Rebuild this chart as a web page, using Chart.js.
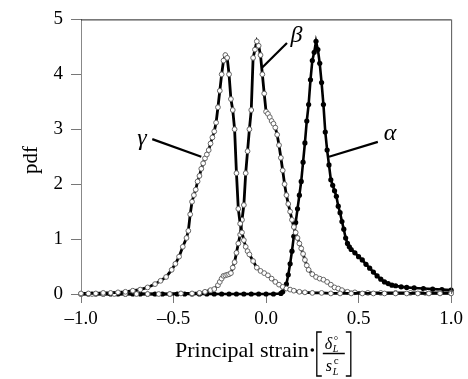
<!DOCTYPE html>
<html lang="en">
<head>
<meta charset="UTF-8">
<title>Principal strain pdf</title>
<script src="https://cdn.jsdelivr.net/npm/chart.js@4.4.1/dist/chart.umd.min.js"></script>
<style>
  body { margin: 0; background: #fff; }
  #wrap { width: 468px; height: 379px; }
</style>
</head>
<body>
<div id="wrap"><canvas id="myChart" width="468" height="379"></canvas></div>
<script>
// values
const xTickValues = [-1.0, -0.5, 0.0, 0.5, 1.0];
const xTickLabels = ["\u20131.0", "\u20130.5", "0.0", "0.5", "1.0"];
const yTickValues = [0, 1, 2, 3, 4, 5];

const gammaX = [-1.00, -0.96, -0.92, -0.88, -0.84, -0.80, -0.76, -0.72, -0.68, -0.64, -0.60, -0.57, -0.54, -0.51, -0.49, -0.47,
  -0.45, -0.43, -0.42, -0.41, -0.40, -0.39, -0.38, -0.37, -0.36, -0.35, -0.34, -0.33, -0.32, -0.31, -0.30, -0.29,
  -0.28, -0.27, -0.26, -0.25, -0.24, -0.23, -0.22, -0.21, -0.20, -0.19, -0.18, -0.17, -0.16, -0.15, -0.14, -0.13,
  -0.12, -0.11, -0.10, -0.09, -0.07, -0.05, -0.03, -0.01, 0.01, 0.03, 0.05, 0.07, 0.09, 0.11, 0.13, 0.15,
  0.18, 0.21, 0.25, 0.30, 0.35, 0.40, 0.46, 0.52, 0.58, 0.64, 0.70, 0.76, 0.82, 0.88, 0.94, 1.00];
const gammaY = [0.01, 0.01, 0.01, 0.02, 0.02, 0.03, 0.04, 0.06, 0.08, 0.12, 0.18, 0.24, 0.31, 0.44, 0.55, 0.68,
  0.86, 1.02, 1.15, 1.45, 1.68, 1.80, 1.90, 2.05, 2.15, 2.28, 2.38, 2.47, 2.54, 2.62, 2.74, 2.85,
  2.96, 3.12, 3.40, 3.70, 4.00, 4.25, 4.35, 4.30, 4.00, 3.55, 3.35, 3.00, 2.20, 1.55, 1.28, 1.12,
  0.98, 0.86, 0.78, 0.72, 0.60, 0.48, 0.42, 0.38, 0.34, 0.28, 0.22, 0.17, 0.13, 0.10, 0.08, 0.06,
  0.04, 0.03, 0.02, 0.02, 0.01, 0.01, 0.01, 0.01, 0.01, 0.01, 0.01, 0.01, 0.01, 0.01, 0.01, 0.01];

const betaX = [-1.00, -0.94, -0.88, -0.82, -0.76, -0.70, -0.64, -0.58, -0.52, -0.46, -0.40, -0.36, -0.33, -0.30, -0.28, -0.26,
  -0.25, -0.24, -0.23, -0.22, -0.21, -0.20, -0.19, -0.18, -0.17, -0.16, -0.15, -0.14, -0.13, -0.12, -0.11, -0.10,
  -0.09, -0.08, -0.07, -0.06, -0.05, -0.04, -0.03, -0.02, -0.01, 0.00, 0.01, 0.02, 0.03, 0.04, 0.05, 0.06,
  0.07, 0.08, 0.09, 0.10, 0.11, 0.12, 0.13, 0.14, 0.15, 0.16, 0.17, 0.18, 0.19, 0.20, 0.21, 0.22,
  0.23, 0.25, 0.27, 0.29, 0.31, 0.33, 0.35, 0.37, 0.39, 0.41, 0.44, 0.48, 0.55, 0.62, 0.70, 0.78, 0.86, 0.94, 1.00];
const betaY = [0.00, 0.00, 0.00, 0.00, 0.00, 0.00, 0.00, 0.00, 0.00, 0.01, 0.01, 0.02, 0.04, 0.07, 0.09, 0.16,
  0.22, 0.28, 0.33, 0.34, 0.35, 0.36, 0.38, 0.48, 0.58, 0.75, 0.92, 1.08, 1.35, 1.62, 2.20, 2.60,
  3.00, 3.35, 4.30, 4.45, 4.60, 4.52, 4.35, 4.00, 3.65, 3.32, 3.28, 3.22, 3.15, 3.10, 3.03, 2.90,
  2.71, 2.48, 2.25, 2.00, 1.80, 1.64, 1.50, 1.35, 1.22, 1.12, 1.02, 0.92, 0.83, 0.73, 0.62, 0.52,
  0.44, 0.36, 0.31, 0.28, 0.26, 0.22, 0.17, 0.12, 0.10, 0.07, 0.04, 0.03, 0.02, 0.02, 0.02, 0.02, 0.02, 0.02, 0.02];

const alphaX = [-1.00, -0.96, -0.92, -0.88, -0.84, -0.80, -0.76, -0.72, -0.68, -0.64, -0.60, -0.56, -0.52, -0.48, -0.44, -0.40,
  -0.36, -0.32, -0.28, -0.24, -0.20, -0.16, -0.12, -0.08, -0.04, 0.00, 0.04, 0.08, 0.09, 0.10, 0.11, 0.12,
  0.13, 0.14, 0.15, 0.16, 0.17, 0.18, 0.19, 0.20, 0.21, 0.22, 0.23, 0.24, 0.25, 0.26, 0.27, 0.28,
  0.29, 0.30, 0.31, 0.32, 0.33, 0.34, 0.35, 0.36, 0.37, 0.38, 0.39, 0.40, 0.41, 0.42, 0.43, 0.44,
  0.45, 0.46, 0.48, 0.50, 0.52, 0.54, 0.56, 0.58, 0.60, 0.62, 0.64, 0.66, 0.68, 0.70, 0.73, 0.76,
  0.80, 0.85, 0.90, 0.95, 1.00];
const alphaY = [0.00, 0.00, 0.00, 0.00, 0.00, 0.00, 0.00, 0.00, 0.00, 0.00, 0.00, 0.00, 0.00, 0.00, 0.00, 0.00,
  0.00, 0.00, 0.00, 0.00, 0.00, 0.00, 0.00, 0.00, 0.00, 0.00, 0.00, 0.01, 0.04, 0.10, 0.18, 0.35,
  0.55, 0.78, 1.05, 1.30, 1.55, 1.80, 2.05, 2.40, 2.75, 3.15, 3.45, 3.90, 4.25, 4.40, 4.60, 4.45,
  4.20, 3.85, 3.45, 2.95, 2.62, 2.35, 2.08, 1.98, 1.88, 1.78, 1.60, 1.48, 1.32, 1.18, 1.02, 0.92,
  0.86, 0.81, 0.75, 0.68, 0.62, 0.54, 0.47, 0.40, 0.33, 0.27, 0.22, 0.19, 0.16, 0.15, 0.13, 0.12,
  0.11, 0.10, 0.09, 0.08, 0.07];

// curve labels: [text, label x, label y, leader start x, y, leader end x, y] in data units
const curveLabels = [
  ["\u03B3", -0.67, 2.82, -0.615, 2.82, -0.350, 2.50],
  ["\u03B2", 0.165, 4.70, 0.113, 4.57, -0.022, 4.12],
  ["\u03B1", 0.670, 2.92, 0.604, 2.77, 0.340, 2.50]
];

const serif = "'Liberation Serif', 'DejaVu Serif', serif";

function pts(xs, ys) {
  return xs.map((x, i) => ({ x: x, y: ys[i] }));
}

// frame, curve labels and the bracketed axis title
const decorations = {
  id: "decorations",
  afterDraw(chart) {
    const ctx = chart.ctx;
    const a = chart.chartArea;
    const sx = chart.scales.x, sy = chart.scales.y;
    ctx.save();
    // top and right frame
    ctx.strokeStyle = "#222";
    ctx.lineWidth = 1;
    ctx.beginPath();
    ctx.moveTo(a.left, a.top + 0.5);
    ctx.lineTo(a.right, a.top + 0.5);
    ctx.stroke();
    ctx.strokeStyle = "#555";
    ctx.beginPath();
    ctx.moveTo(a.right + 0.5, a.top);
    ctx.lineTo(a.right + 0.5, a.bottom);
    ctx.stroke();

    // greek labels with leader lines
    ctx.fillStyle = "#000";
    ctx.strokeStyle = "#000";
    ctx.lineWidth = 2.2;
    ctx.font = "italic 24px " + serif;
    ctx.textAlign = "center";
    ctx.textBaseline = "middle";
    curveLabels.forEach(l => {
      ctx.fillText(l[0], sx.getPixelForValue(l[1]), sy.getPixelForValue(l[2]));
      ctx.beginPath();
      ctx.moveTo(sx.getPixelForValue(l[3]), sy.getPixelForValue(l[4]));
      ctx.lineTo(sx.getPixelForValue(l[5]), sy.getPixelForValue(l[6]));
      ctx.stroke();
    });

    // x-axis title: Principal strain·[δ°L / scL]
    ctx.textAlign = "left";
    ctx.textBaseline = "alphabetic";
    ctx.font = "22px " + serif;
    ctx.fillText("Principal strain", 175, 357);
    const w = ctx.measureText("Principal strain").width;
    ctx.beginPath();
    ctx.arc(175 + w + 3.5, 350, 1.8, 0, Math.PI * 2);
    ctx.fill();
    const bx = 175 + w + 8;
    ctx.lineWidth = 1.3;
    ctx.beginPath();
    ctx.moveTo(bx + 5, 332); ctx.lineTo(bx, 332); ctx.lineTo(bx, 376); ctx.lineTo(bx + 5, 376);
    ctx.moveTo(bx + 29, 332); ctx.lineTo(bx + 34, 332); ctx.lineTo(bx + 34, 376); ctx.lineTo(bx + 29, 376);
    ctx.moveTo(bx + 6, 353.5); ctx.lineTo(bx + 28, 353.5);
    ctx.stroke();
    ctx.font = "italic 16px " + serif;
    ctx.fillText("\u03B4", bx + 8, 349);
    ctx.fillText("s", bx + 9, 371);
    ctx.font = "11px " + serif;
    ctx.fillText("\u00B0", bx + 17, 344);
    ctx.fillText("c", bx + 17, 364);
    ctx.font = "italic 10px " + serif;
    ctx.fillText("L", bx + 16, 352);
    ctx.fillText("L", bx + 16, 375);

    // y-axis title
    ctx.translate(31, 160);
    ctx.rotate(-Math.PI / 2);
    ctx.font = "21px " + serif;
    ctx.textAlign = "center";
    ctx.textBaseline = "middle";
    ctx.fillText("pdf", 0, 0);
    ctx.restore();
  }
};

new Chart("myChart", {
  type: "scatter",
  data: {
    datasets: [
      {
        data: pts(gammaX, gammaY),
        showLine: true,
        borderColor: "#000",
        borderWidth: 2.8,
        pointRadius: 2.4,
        pointBorderWidth: 1,
        pointBorderColor: "#666",
        pointBackgroundColor: "#fff",
        clip: 6
      },
      {
        data: pts(betaX, betaY),
        showLine: true,
        borderColor: "#000",
        borderWidth: 2.8,
        pointRadius: 2.4,
        pointBorderWidth: 1,
        pointBorderColor: "#666",
        pointBackgroundColor: "#fff",
        clip: 6
      },
      {
        data: pts(alphaX, alphaY),
        showLine: true,
        borderColor: "#000",
        borderWidth: 2.6,
        pointRadius: 2.6,
        pointBorderWidth: 0,
        pointBackgroundColor: "#000",
        clip: 6
      }
    ]
  },
  options: {
    responsive: false,
    animation: false,
    layout: { padding: { left: 0, right: 16, top: 16, bottom: 0 } },
    plugins: { legend: { display: false }, tooltip: { enabled: false } },
    scales: {
      x: {
        type: "linear",
        min: -1,
        max: 1,
        afterFit: s => { s.height = 85; },
        afterBuildTicks: s => { s.ticks = xTickValues.map(v => ({ value: v })); },
        border: { display: false },
        grid: { drawOnChartArea: false, tickLength: 9, color: "#777" },
        ticks: {
          color: "#000",
          padding: 5,
          font: { family: serif, size: 19 },
          callback: v => xTickLabels[xTickValues.indexOf(v)]
        }
      },
      y: {
        min: 0,
        max: 5,
        afterFit: s => { s.width = 81; },
        afterBuildTicks: s => { s.ticks = yTickValues.map(v => ({ value: v })); },
        border: { display: true, color: "#888", width: 1 },
        grid: { drawOnChartArea: false, tickLength: 10, color: "#777" },
        ticks: {
          color: "#000",
          padding: 8,
          font: { family: serif, size: 19 },
          callback: v => String(v)
        }
      }
    }
  },
  plugins: [decorations]
});
</script>
</body>
</html>
